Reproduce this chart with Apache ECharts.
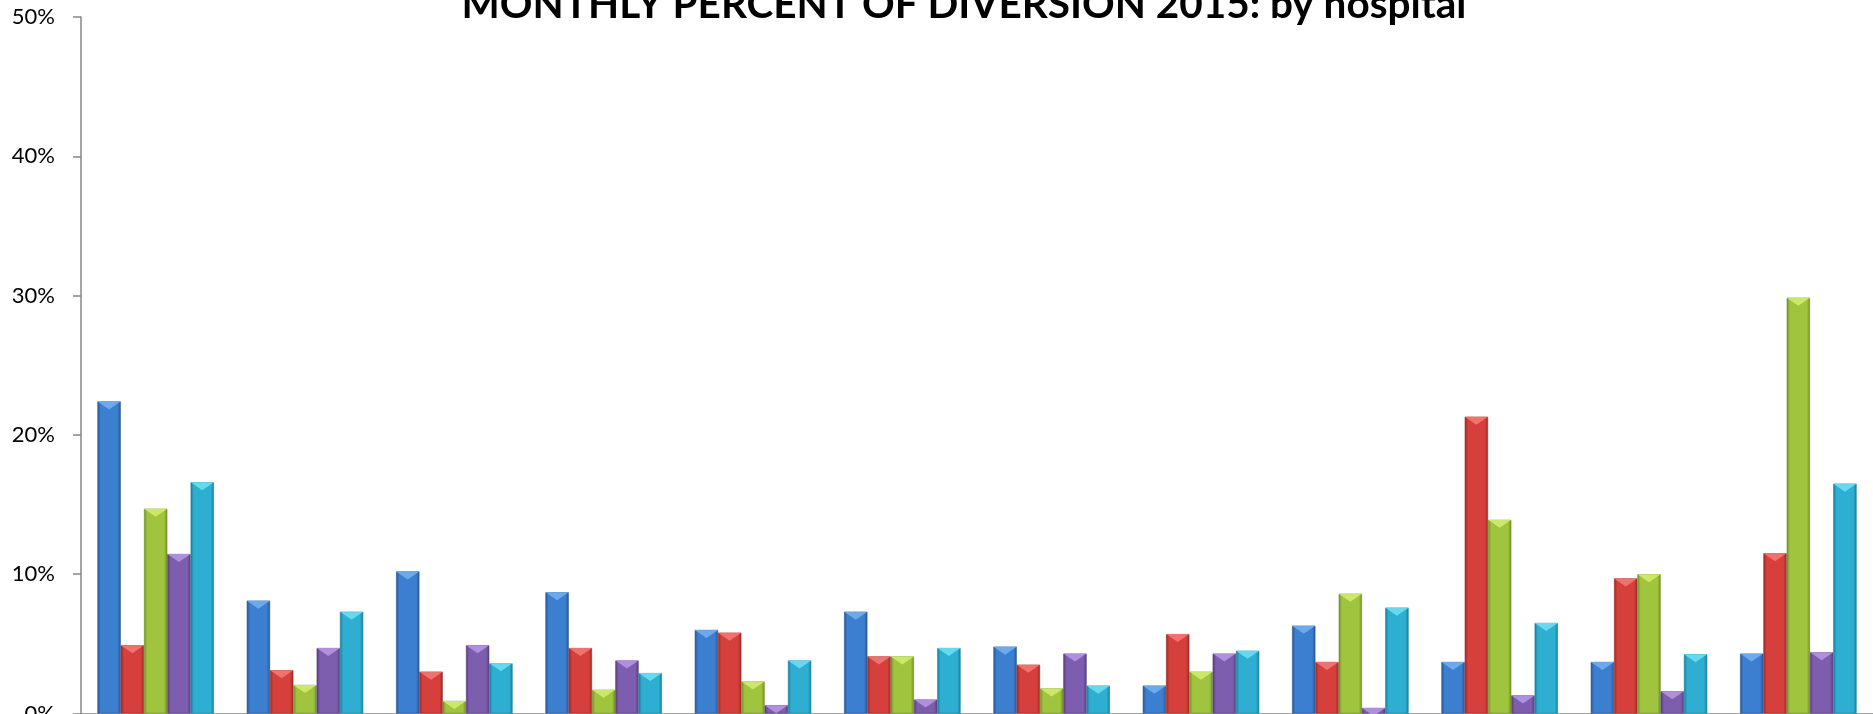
<!DOCTYPE html>
<html>
<head>
<meta charset="utf-8">
<title>Monthly percent of diversion 2015</title>
<script src="https://cdn.jsdelivr.net/npm/echarts@6/dist/echarts.min.js"></script>
<style>
  html, body { margin: 0; padding: 0; background: #fff; }
  #main { width: 1873px; height: 714px; }
</style>
</head>
<body>
<div id="main"></div>
<script>
// data (percent)
var months = ['Jan', 'Feb', 'Mar', 'Apr', 'May', 'Jun', 'Jul', 'Aug', 'Sep', 'Oct', 'Nov', 'Dec'];
var hospitalA = [22.4, 8.1, 10.2, 8.7, 6.0, 7.3, 4.8, 2.0, 6.3, 3.7, 3.7, 4.3];
var hospitalB = [4.9, 3.1, 3.0, 4.7, 5.8, 4.1, 3.5, 5.7, 3.7, 21.3, 9.7, 11.5];
var hospitalC = [14.7, 2.05, 0.9, 1.7, 2.3, 4.1, 1.8, 3.0, 8.6, 13.9, 10.0, 29.85];
var hospitalD = [11.45, 4.7, 4.9, 3.8, 0.6, 1.0, 4.3, 4.3, 0.4, 1.3, 1.6, 4.4];
var hospitalE = [16.6, 7.3, 3.6, 2.9, 3.8, 4.7, 2.0, 4.5, 7.6, 6.5, 4.25, 16.5];
var yTicks = [0, 10, 20, 30, 40, 50];

var seriesList = [
  { name: 'Hospital A', data: hospitalA, dark: '#27568f', mid: '#3c7ecf', top: '#74b2f0' },
  { name: 'Hospital B', data: hospitalB, dark: '#9c2724', mid: '#d6403c', top: '#f47a76' },
  { name: 'Hospital C', data: hospitalC, dark: '#718f26', mid: '#a0c43e', top: '#d4ee70' },
  { name: 'Hospital D', data: hospitalD, dark: '#553c7e', mid: '#7d5dae', top: '#b898e6' },
  { name: 'Hospital E', data: hospitalE, dark: '#177e9c', mid: '#2eaed0', top: '#70e0f6' }
];

function shade(s) {
  return new echarts.graphic.LinearGradient(0, 0, 1, 0, [
    { offset: 0, color: s.dark },
    { offset: 0.14, color: s.mid },
    { offset: 0.5, color: s.mid },
    { offset: 0.86, color: s.mid },
    { offset: 1, color: s.dark }
  ]);
}

var series = [];
seriesList.forEach(function (s) {
  series.push({
    name: s.name,
    type: 'bar',
    data: s.data,
    barGap: '0%',
    barCategoryGap: '22%',
    itemStyle: { color: shade(s), borderColor: s.dark, borderWidth: 0.6 }
  });
});
// bevel highlight at the top of each bar
seriesList.forEach(function (s) {
  series.push({
    name: s.name + ' top',
    type: 'pictorialBar',
    data: s.data,
    barGap: '0%',
    barCategoryGap: '22%',
    symbol: 'path://M0,0 L10,0 L5,4 Z',
    symbolPosition: 'end',
    symbolSize: ['100%', 8],
    itemStyle: { color: s.top, opacity: 0.85 },
    z: 3,
    silent: true
  });
});

var chart = echarts.init(document.getElementById('main'));
chart.setOption({
  animation: false,
  title: {
    text: 'MONTHLY PERCENT OF DIVERSION 2015: by hospital',
    left: 959,
    top: -21,
    textAlign: 'center',
    textStyle: { fontFamily: 'Lato', fontWeight: 'bold', fontSize: 40.5, color: '#000' }
  },
  grid: { left: 81, right: 0, top: 17, bottom: 0.5, containLabel: false, outerBoundsMode: 'none' },
  xAxis: {
    type: 'category',
    data: months,
    axisLine: { lineStyle: { color: '#868686', width: 1.5 } },
    axisTick: { show: false },
    axisLabel: { show: false }
  },
  yAxis: {
    type: 'value',
    min: yTicks[0],
    max: yTicks[yTicks.length - 1],
    interval: 10,
    axisLine: { show: true, lineStyle: { color: '#868686', width: 1.5 } },
    axisTick: { show: true, length: 8, lineStyle: { color: '#868686', width: 1.5 } },
    splitLine: { show: false },
    axisLabel: {
      formatter: '{value}%',
      margin: 26,
      fontFamily: 'Lato',
      fontSize: 22,
      color: '#000'
    }
  },
  series: series
});
</script>
</body>
</html>
